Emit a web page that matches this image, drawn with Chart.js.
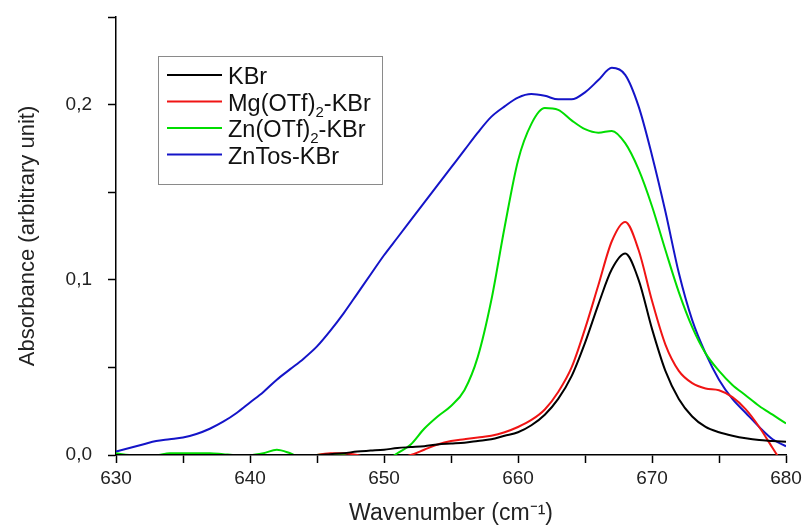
<!DOCTYPE html>
<html>
<head>
<meta charset="utf-8">
<title>Absorbance spectra</title>
<script src="https://cdn.jsdelivr.net/npm/chart.js@4.4.1/dist/chart.umd.min.js"></script>
<style>
  html, body { margin: 0; padding: 0; background: #fff; }
  #wrap { width: 806px; height: 527px; }
</style>
</head>
<body>
<div id="wrap"><canvas id="spectrum"></canvas></div>
<script>
// wavenumber grid (cm-1) shared by all curves
const wavenumbers = [
  630, 631, 632, 633, 634, 635, 636, 637, 638, 639,
  640, 641, 642, 643, 644, 645, 646, 647, 648, 649,
  650, 651, 652, 653, 654, 655, 656, 657, 658, 659,
  660, 661, 662, 663, 664, 665, 666, 667, 668, 669,
  670, 671, 672, 673, 674, 675, 676, 677, 678, 679, 680
];

const seriesLabels = ["KBr", "Mg(OTf)₂-KBr", "Zn(OTf)₂-KBr", "ZnTos-KBr"];
const seriesColors = ["#000000", "#f01414", "#00dd00", "#1414c8"];

const kbr = [
  0, 0, 0, 0, 0, 0, 0, 0, 0, 0,
  0, 0, 0, 0, 0, 0, 0.0005, 0.001, 0.002, 0.0025,
  0.003, 0.004, 0.0045, 0.005, 0.006, 0.0065, 0.007, 0.008, 0.009, 0.011,
  0.013, 0.017, 0.023, 0.032, 0.045, 0.064, 0.086, 0.106, 0.115, 0.100,
  0.072, 0.048, 0.032, 0.022, 0.016, 0.013, 0.011, 0.0095, 0.0085, 0.008, 0.0075
];
const mgOTf = [
  -0.003, -0.003, -0.003, -0.003, -0.003, -0.003, -0.003, -0.003, -0.003, -0.003,
  -0.003, -0.003, -0.003, -0.003, -0.002, 0, 0.001, 0.001, 0, -0.002,
  -0.003, -0.002, 0, 0.003, 0.006, 0.008, 0.009, 0.010, 0.011, 0.013,
  0.016, 0.020, 0.026, 0.036, 0.050, 0.072, 0.097, 0.122, 0.133, 0.117,
  0.088, 0.063, 0.048, 0.041, 0.038, 0.037, 0.033, 0.026, 0.016, 0.004, -0.008
];
const znOTf = [
  0.001, 0, 0, 0, 0.001, 0.001, 0.001, 0.001, 0.0005, 0,
  0, 0.001, 0.003, 0.001, -0.002, 0, 0.0005, 0, -0.003, -0.006,
  -0.004, 0.001, 0.006, 0.015, 0.022, 0.028, 0.037, 0.056, 0.088, 0.130,
  0.168, 0.189, 0.198, 0.197, 0.191, 0.186, 0.184, 0.185, 0.178, 0.163,
  0.142, 0.117, 0.093, 0.073, 0.058, 0.048, 0.040, 0.034, 0.028, 0.023, 0.018
];
const znTos = [
  0.002, 0.004, 0.006, 0.008, 0.009, 0.010, 0.012, 0.015, 0.019, 0.024,
  0.030, 0.036, 0.043, 0.049, 0.055, 0.062, 0.071, 0.081, 0.092, 0.103,
  0.114, 0.124, 0.134, 0.144, 0.154, 0.164, 0.174, 0.184, 0.193, 0.199,
  0.204, 0.206, 0.205, 0.203, 0.203, 0.207, 0.214, 0.221, 0.217, 0.199,
  0.171, 0.139, 0.104, 0.077, 0.058, 0.043, 0.032, 0.024, 0.016, 0.009, 0.005
];
const seriesValues = [kbr, mgOTf, znOTf, znTos];

const xTickMin = 630, xTickMax = 680, xStep = 5;
const yTickMin = 0, yTickMax = 0.25, yStep = 0.05;

const FONT = "'Liberation Sans', Arial, sans-serif";

function toPoints(values) {
  return values.map((v, i) => ({ x: wavenumbers[i], y: v }));
}

// legend drawn inside the plot, with a real subscript for the "2"
const insideLegend = {
  id: "insideLegend",
  afterDraw(chart) {
    const ctx = chart.ctx;
    const box = { x: 158.5, y: 56.5, w: 224, h: 128 };
    ctx.save();
    ctx.strokeStyle = "#8a8a8a";
    ctx.lineWidth = 1;
    ctx.strokeRect(box.x, box.y, box.w, box.h);
    ctx.textBaseline = "alphabetic";
    chart.data.datasets.forEach((ds, i) => {
      const rowY = 75 + i * 26.5;
      ctx.strokeStyle = ds.borderColor;
      ctx.lineWidth = 2;
      ctx.beginPath();
      ctx.moveTo(167, rowY);
      ctx.lineTo(222, rowY);
      ctx.stroke();
      ctx.fillStyle = "#111";
      let x = 228;
      const base = rowY + 9;
      ds.label.split(/(₂)/).forEach(part => {
        if (part === "₂") {
          ctx.font = "15px " + FONT;
          ctx.fillText("2", x, base + 6);
          x += ctx.measureText("2").width;
        } else if (part) {
          ctx.font = "23.5px " + FONT;
          ctx.fillText(part, x, base);
          x += ctx.measureText(part).width;
        }
      });
    });
    ctx.restore();
  }
};

const ctx = document.getElementById("spectrum").getContext("2d");
new Chart(ctx, {
  type: "line",
  data: {
    datasets: seriesLabels.map((label, i) => ({
      label: label,
      data: toPoints(seriesValues[i]),
      borderColor: seriesColors[i],
      backgroundColor: seriesColors[i],
      borderWidth: 2,
      pointRadius: 0,
      fill: false,
      cubicInterpolationMode: "monotone"
    }))
  },
  options: {
    responsive: true,
    maintainAspectRatio: false,
    animation: false,
    layout: { padding: { top: 17, right: 20, left: 0, bottom: 0 } },
    plugins: {
      legend: { display: false },
      tooltip: { enabled: false }
    },
    scales: {
      x: {
        type: "linear",
        min: xTickMin,
        max: xTickMax,
        afterFit: scale => {
          scale.height = 72;
          scale.paddingLeft = 0;
          scale.paddingRight = 0;
        },
        border: { display: true, color: "#000", width: 1.5 },
        grid: { drawOnChartArea: false, drawTicks: true, tickLength: 8, tickColor: "#000", tickWidth: 1.5 },
        ticks: {
          stepSize: xStep,
          autoSkip: false,
          maxRotation: 0,
          padding: 4,
          color: "#222",
          font: { family: FONT, size: 19 },
          callback: v => (v % 10 === 0 ? String(v) : "")
        },
        title: {
          display: true,
          text: "Wavenumber (cm⁻¹)",
          color: "#222",
          font: { family: FONT, size: 23 },
          padding: { top: 0, bottom: 0 }
        }
      },
      y: {
        min: yTickMin,
        max: yTickMax,
        afterFit: scale => {
          scale.width = 116;
          scale.paddingTop = 0;
          scale.paddingBottom = 0;
        },
        border: { display: true, color: "#000", width: 1.5 },
        grid: { drawOnChartArea: false, drawTicks: true, tickLength: 8, tickColor: "#000", tickWidth: 1.5 },
        ticks: {
          stepSize: yStep,
          autoSkip: false,
          padding: 16,
          color: "#222",
          font: { family: FONT, size: 19 },
          callback: v => {
            const tenth = v * 10;
            return Math.abs(tenth - Math.round(tenth)) < 1e-6 ? v.toFixed(1).replace(".", ",") : "";
          }
        },
        title: {
          display: true,
          text: "Absorbance (arbitrary unit)",
          color: "#222",
          font: { family: FONT, size: 22 },
          padding: { top: 15, bottom: 0 }
        }
      }
    }
  },
  plugins: [insideLegend]
});
</script>
</body>
</html>
